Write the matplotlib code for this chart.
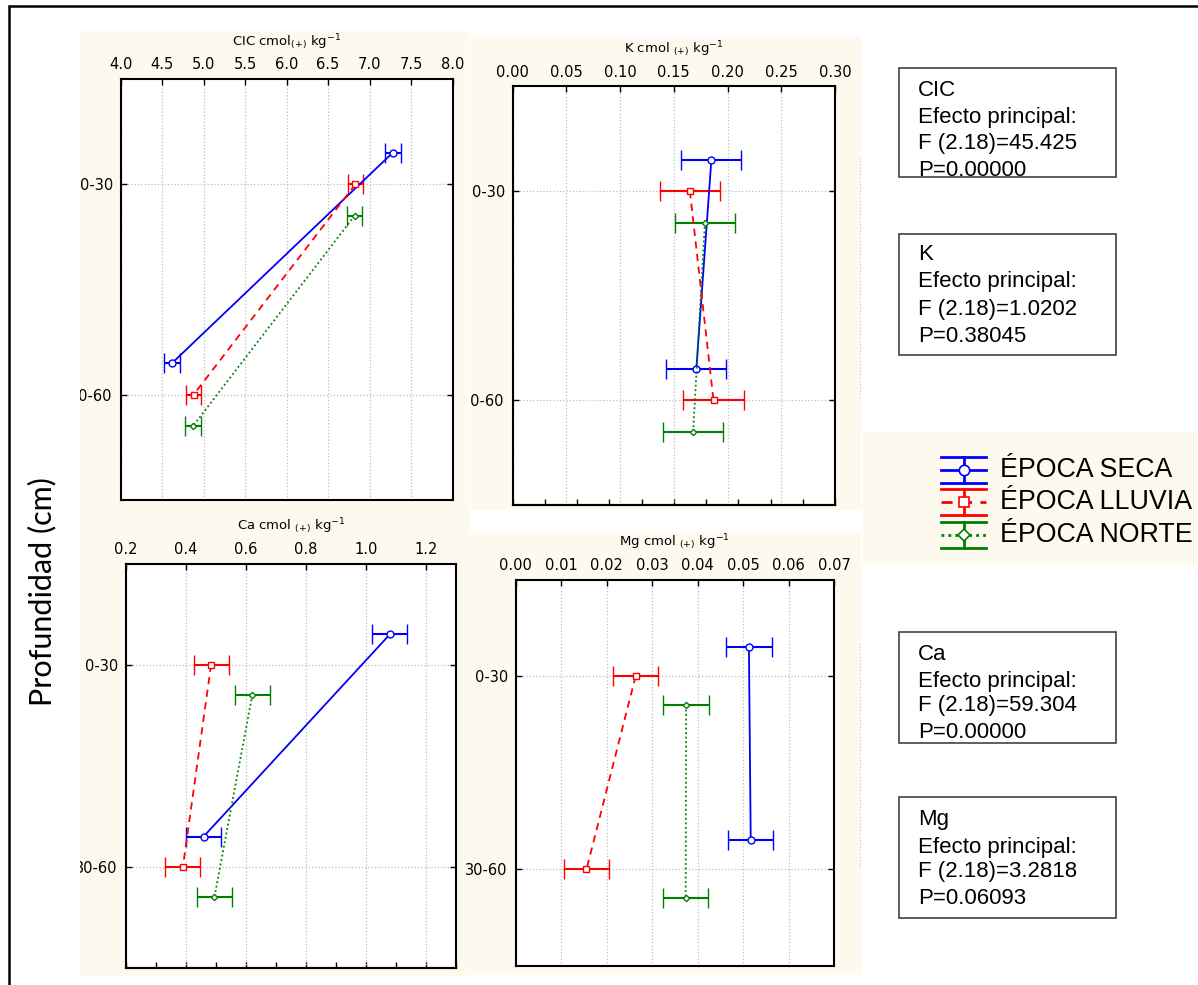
import matplotlib
matplotlib.use("Agg")
import matplotlib.pyplot as plt
from matplotlib.patches import Rectangle
from matplotlib.lines import Line2D
import numpy as np

# ---------------- data ----------------
depth_labels = ['0-30', '30-60']
seasons = ['ÉPOCA SECA', 'ÉPOCA LLUVIA', 'ÉPOCA NORTE']

cic_seca = [7.28, 4.62]
cic_lluvia = [6.83, 4.88]
cic_norte = [6.82, 4.87]
cic_err = 0.095

k_seca = [0.185, 0.171]
k_lluvia = [0.165, 0.187]
k_norte = [0.179, 0.168]
k_err = 0.028

ca_seca = [1.08, 0.46]
ca_lluvia = [0.485, 0.391]
ca_norte = [0.622, 0.496]
ca_err = 0.058

mg_seca = [0.0513, 0.0517]
mg_lluvia = [0.0264, 0.0156]
mg_norte = [0.0375, 0.0374]
mg_err = 0.005

stats_cic = ['CIC', 'Efecto principal:', 'F (2.18)=45.425', 'P=0.00000']
stats_k = ['K', 'Efecto principal:', 'F (2.18)=1.0202', 'P=0.38045']
stats_ca = ['Ca', 'Efecto principal:', 'F (2.18)=59.304', 'P=0.00000']
stats_mg = ['Mg', 'Efecto principal:', 'F (2.18)=3.2818', 'P=0.06093']

# ---------------- layout helpers ----------------
W, H = 1198, 985
fig = plt.figure(figsize=(W / 100, H / 100), dpi=100)
fig.patch.set_facecolor('white')
CREAM = '#fdf9ef'


def rect(l, t, r, b):
    return [l / W, 1 - b / H, (r - l) / W, (b - t) / H]


def add_bg(l, t, r, b):
    p = Rectangle((l / W, 1 - b / H), (r - l) / W, (b - t) / H,
                  transform=fig.transFigure, facecolor=CREAM, edgecolor='none', zorder=-2)
    fig.patches.append(p)
    return p


# outer frame (only top / left visible)
fig.patches.append(Rectangle((9 / W, 1 - 1000 / H), 1300 / W, 994 / H, transform=fig.transFigure,
                             facecolor='none', edgecolor='black', lw=1.8, zorder=-1))

bg_tl = add_bg(80, 31, 469, 512)
bg_tr = add_bg(470, 37, 861, 510)
bg_bl = add_bg(80, 510, 470, 976)
bg_br = add_bg(466, 532, 861, 975)
add_bg(863, 432, 1197, 564)

colors = ['#0000ff', '#ff0000', '#008000']
lstyles = ['-', (0, (4, 3)), (0, (1, 1.5))]
markers = ['o', 's', 'D']
msizes = [5, 4.5, 3.2]
offsets = [-0.15, 0.0, 0.15]

TICKFONT = dict(family='DejaVu Sans', size=10.5)


def panel(pos, bg, xlim, xticks, fmt, series, err, title, bottom_ticks=None):
    ax = fig.add_axes(rect(*pos))
    ax.set_zorder(1)
    ax.set_facecolor('white')
    ax.set_xlim(*xlim)
    ax.set_ylim(2.5, 0.5)
    ypos = np.arange(1, len(depth_labels) + 1)
    ax.set_yticks(ypos)
    ax.set_yticklabels(depth_labels, **TICKFONT)
    ax.set_xticks(xticks)
    ax.set_xticklabels([fmt.format(v) for v in xticks], **TICKFONT)
    ax.tick_params(axis='x', top=True, labeltop=True, bottom=False, labelbottom=False,
                   direction='in', length=4, width=1, pad=5)
    ax.tick_params(axis='y', left=True, right=True, direction='in', length=4, width=1, pad=5.5)
    ax.grid(True, color='#bdbdbd', linestyle=':', linewidth=0.9)
    ax.set_axisbelow(True)
    for s in ax.spines.values():
        s.set_linewidth(1.5)
        s.set_color('black')
    for i, vals in enumerate(series):
        ax.errorbar(vals, ypos + offsets[i], xerr=err, color=colors[i], ls=lstyles[i], lw=1.3,
                    elinewidth=1.5, capsize=7, capthick=1.5, marker=markers[i], ms=msizes[i],
                    mfc='white', mec=colors[i], mew=1.0, zorder=3)
    if bottom_ticks is not None:
        sec = ax.secondary_xaxis('bottom')
        sec.set_xticks(bottom_ticks)
        sec.tick_params(direction='in', length=4, width=1, labelbottom=False)
        sec.spines['bottom'].set_linewidth(1.5)
    for lab in ax.get_xticklabels() + ax.get_yticklabels():
        lab.set_clip_path(bg)
        lab.set_clip_on(True)
    ax.annotate(title, xy=(0.5, 1), xycoords='axes fraction', xytext=(0, 37),
                textcoords='offset pixels', ha='center', va='center', fontsize=9.5,
                family='DejaVu Sans', annotation_clip=False)
    return ax


panel((120.5, 79, 452.5, 500), bg_tl, (4.0, 8.0), np.arange(4.0, 8.01, 0.5), '{:.1f}',
      [cic_seca, cic_lluvia, cic_norte], cic_err, r'CIC cmol$_{(+)}$ kg$^{-1}$')
panel((512.5, 86.5, 835, 505), bg_tr, (0.0, 0.30), np.arange(0, 0.301, 0.05), '{:.2f}',
      [k_seca, k_lluvia, k_norte], k_err, r'K cmol $_{(+)}$ kg$^{-1}$',
      bottom_ticks=np.arange(0, 0.301, 0.03))
panel((125.5, 563.5, 456, 968), bg_bl, (0.2, 1.3), np.arange(0.2, 1.21, 0.2), '{:.1f}',
      [ca_seca, ca_lluvia, ca_norte], ca_err, r'Ca cmol $_{(+)}$ kg$^{-1}$',
      bottom_ticks=np.arange(0.2, 1.31, 0.1))
panel((515.5, 579.5, 834, 966), bg_br, (0.0, 0.07), np.arange(0, 0.0701, 0.01), '{:.2f}',
      [mg_seca, mg_lluvia, mg_norte], mg_err, r'Mg cmol $_{(+)}$ kg$^{-1}$')

# faint artefact lines at right of panels
for (x, y0, y1) in [(860, 157, 400), (860, 643, 868)]:
    fig.add_artist(Line2D([x / W, x / W], [1 - y0 / H, 1 - y1 / H], transform=fig.transFigure,
                          color='#c8c8c8', lw=0.8, ls=(0, (1, 2))))

# y label
fig.text(42 / W, 1 - 592 / H, 'Profundidad (cm)', rotation=90, ha='center', va='center',
         fontsize=22, family='Lato', color='black')


# stats boxes
def stat_box(l, t, r, b, lines, ys):
    fig.patches.append(Rectangle((l / W, 1 - b / H), (r - l) / W, (b - t) / H, transform=fig.transFigure,
                                 facecolor='white', edgecolor='none', zorder=1))
    for s, y in zip(lines, ys):
        fig.text(918 / W, 1 - y / H, s, ha='left', va='center', fontsize=16,
                 family='Liberation Sans', zorder=2)
    fig.add_artist(Rectangle((l / W, 1 - b / H), (r - l) / W, (b - t) / H, transform=fig.transFigure,
                             facecolor='none', edgecolor='#333333', lw=1.1, zorder=3))


stat_box(899, 68, 1116, 177, stats_cic, [90, 117, 144, 171])
stat_box(899, 234, 1116, 355, stats_k, [255, 282, 310, 337])
stat_box(899, 632, 1116, 743, stats_ca, [655, 682, 705, 732])
stat_box(899, 797, 1116, 918, stats_mg, [820, 847, 872, 898])

# legend (manual)
leg_y = [470, 502, 535]
hx0, hx1 = 941, 986
hxm = (hx0 + hx1) / 2
for i, name in enumerate(seasons):
    yc = leg_y[i]
    yt, yb = yc - 13, yc + 13
    c = colors[i]
    for yy in (yt, yb):
        fig.add_artist(Line2D([hx0 / W, hx1 / W], [1 - yy / H, 1 - yy / H], transform=fig.transFigure,
                              color=c, lw=2))
    fig.add_artist(Line2D([hxm / W, hxm / W], [1 - yt / H, 1 - yb / H], transform=fig.transFigure,
                          color=c, lw=2))
    fig.add_artist(Line2D([hx0 / W, hx1 / W], [1 - yc / H, 1 - yc / H], transform=fig.transFigure,
                          color=c, lw=2, ls=lstyles[i]))
    fig.add_artist(Line2D([hxm / W], [1 - yc / H], transform=fig.transFigure, color=c,
                          marker=markers[i], ms=[7.5, 7, 6][i], mfc='white', mec=c, mew=1.2, ls='none'))
    fig.text(1000 / W, 1 - yc / H, name, ha='left', va='center', fontsize=19.3,
             family='Liberation Sans')

fig.savefig('out.png', dpi=100)
